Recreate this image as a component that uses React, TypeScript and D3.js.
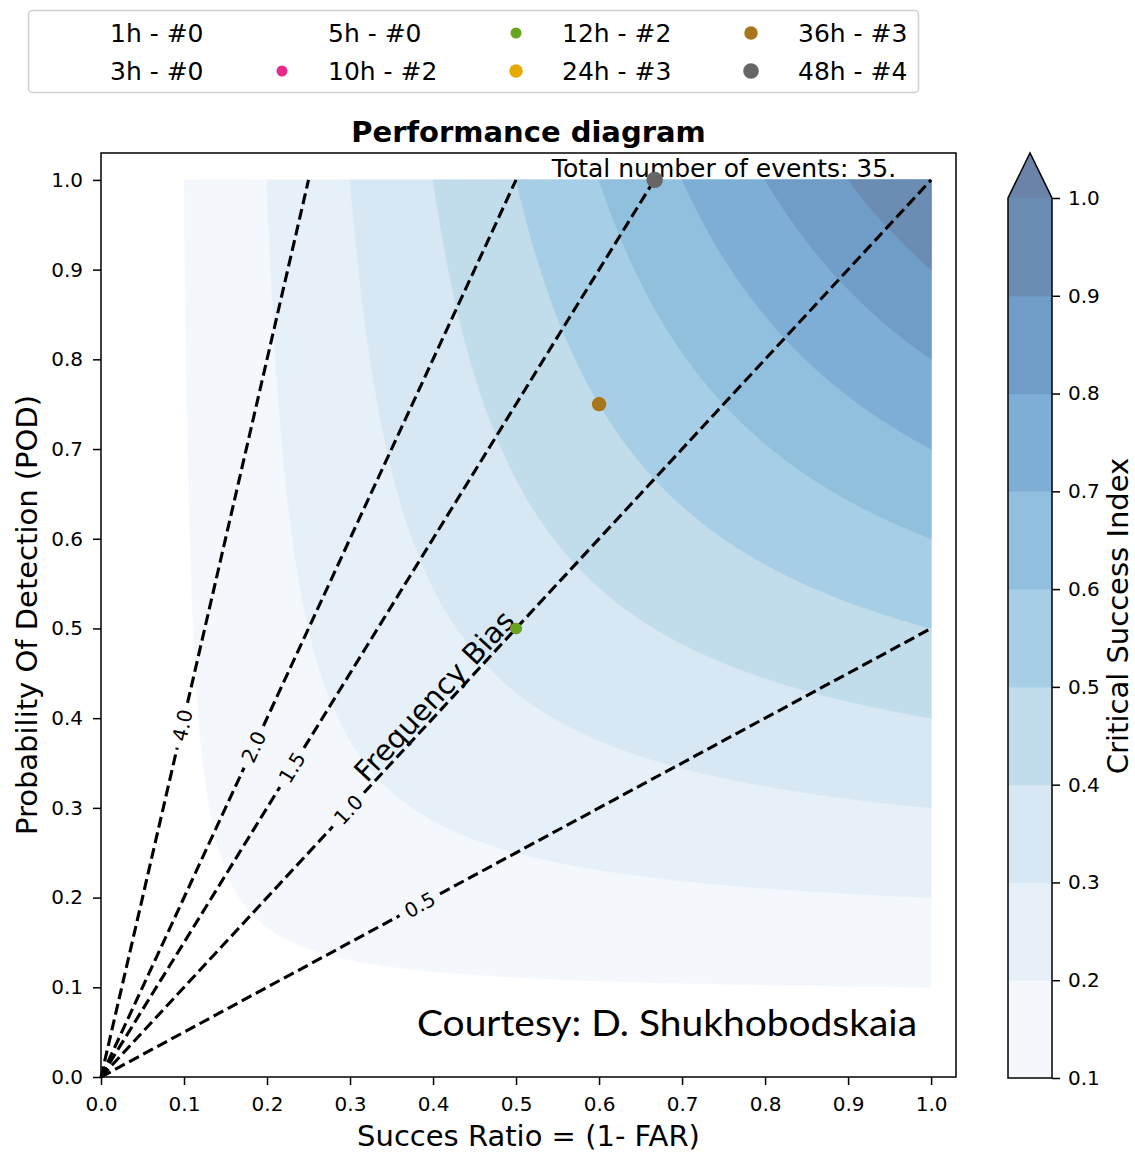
import React, { useEffect, useRef } from "react";
import * as d3 from "d3";

const W = 1135;
const H = 1152;

// CSI contour levels, also the colorbar ticks
const csiLevels = [0.1, 0.2, 0.3, 0.4, 0.5, 0.6, 0.7, 0.8, 0.9, 1.0];

// frequency bias lines + where the inline label sits (as success ratio)
const biasValues = [0.5, 1.0, 1.5, 2.0, 4.0];
const biasLabels = ["0.5", "1.0", "1.5", "2.0", "4.0"];
const biasLabelSR = [0.384, 0.298, 0.23, 0.184, 0.098];

// forecasts per lead time
const leadTimes = ["1h", "3h", "5h", "10h", "12h", "24h", "36h", "48h"];
const successRatio = [null, null, null, 0.5, 0.5, 0.6, 0.6, 0.667];
const podValues = [null, null, null, 0.5, 0.5, 0.75, 0.75, 1.0];
const nEvents = [0, 0, 0, 2, 2, 3, 3, 4];
const pointColors = ["#1b9e77", "#d95f02", "#7570b3", "#e7298a", "#66a61e", "#e6ab02", "#a6761d", "#666666"];

const axisTicks = [0, 0.1, 0.2, 0.3, 0.4, 0.5, 0.6, 0.7, 0.8, 0.9, 1.0];
const totalEvents = 35;

// grid the CSI field is evaluated on
const gridStart = 0.1;
const gridEnd = 1.0;
const gridN = 181;

// matplotlib "Blues" anchors
const bluesStops = ["#f7fbff", "#deebf7", "#c6dbef", "#9ecae1", "#6baed6", "#4292c6", "#2171b5", "#08519c", "#08306b"];

const FONT = "DejaVu Sans";

function csi(sr: number, pod: number) {
  return 1 / (1 / sr + 1 / pod - 1);
}

export default function App() {
  const ref = useRef<SVGSVGElement>(null);

  useEffect(() => {
    document.body.style.margin = "0";
    document.body.style.overflow = "hidden";

    const svg = d3.select(ref.current);
    svg.selectAll("*").remove();

    const x = d3.scaleLinear().domain([0, 1.03]).range([101, 956]);
    const y = d3.scaleLinear().domain([0, 1.03]).range([1077, 153]);

    const blues = d3
      .scaleLinear<string>()
      .domain(d3.range(bluesStops.length).map((i) => i / (bluesStops.length - 1)))
      .range(bluesStops)
      .interpolate(d3.interpolateRgb);
    // alpha 0.6 over white
    const withAlpha = (c: string) => d3.interpolateRgb("#ffffff", c)(0.6);
    const lo = csiLevels[0];
    const hi = csiLevels[csiLevels.length - 1];
    const bandColor = (k: number) => {
      if (k >= csiLevels.length - 1) return withAlpha(blues(1));
      const mid = (csiLevels[k] + csiLevels[k + 1]) / 2;
      return withAlpha(blues((mid - lo) / (hi - lo)));
    };

    // ---- contour field
    const n = gridN;
    const step = (gridEnd - gridStart) / (n - 1);
    const values: number[] = new Array(n * n);
    for (let j = 0; j < n; j++) {
      for (let i = 0; i < n; i++) {
        values[j * n + i] = csi(gridStart + i * step, gridStart + j * step);
      }
    }
    const contours = d3.contours().size([n, n]).thresholds(csiLevels)(values);
    const clampG = (c: number) => Math.max(0, Math.min(n - 1, c - 0.5));
    const toPx = (p: number[]) => [
      x(gridStart + clampG(p[0]) * step),
      y(gridStart + clampG(p[1]) * step),
    ];
    const pathOf = (mp: d3.ContourMultiPolygon) =>
      mp.coordinates
        .map((poly) =>
          poly
            .map((ring) => "M" + ring.map((p) => toPx(p).map((v) => v.toFixed(2)).join(",")).join("L") + "Z")
            .join("")
        )
        .join("");

    const plot = svg.append("g");
    plot
      .selectAll("path.band")
      .data(contours)
      .enter()
      .append("path")
      .attr("class", "band")
      .attr("d", (d) => pathOf(d))
      .attr("fill", (d, k) => bandColor(k))
      .attr("stroke", (d, k) => bandColor(k))
      .attr("stroke-width", 0.6);

    // ---- frequency bias lines with inline labels
    const lineG = plot.append("g");
    biasValues.forEach((b, k) => {
      const srEnd = Math.min(1, 1 / b);
      const p0 = [x(0), y(0)];
      const p1 = [x(srEnd), y(b * srEnd)];
      const c = [x(biasLabelSR[k]), y(b * biasLabelSR[k])];
      const len = Math.hypot(p1[0] - p0[0], p1[1] - p0[1]);
      const u = [(p1[0] - p0[0]) / len, (p1[1] - p0[1]) / len];
      const half = 23;
      const a = [c[0] - u[0] * half, c[1] - u[1] * half];
      const e = [c[0] + u[0] * half, c[1] + u[1] * half];
      [
        [p0, a],
        [e, p1],
      ].forEach((seg) => {
        lineG
          .append("path")
          .attr("d", d3.line()(seg as [number, number][]))
          .attr("fill", "none")
          .attr("stroke", "#000")
          .attr("stroke-width", 3.1)
          .attr("stroke-dasharray", "11,5");
      });
      const ang = (Math.atan2(p1[1] - p0[1], p1[0] - p0[0]) * 180) / Math.PI;
      lineG
        .append("text")
        .attr("transform", `translate(${c[0]},${c[1]}) rotate(${ang})`)
        .attr("text-anchor", "middle")
        .attr("dy", "0.36em")
        .attr("font-family", FONT)
        .attr("font-size", 20)
        .text(biasLabels[k]);
    });

    // "Frequency Bias" along the 1.0 line
    const ang1 = (Math.atan2(y(1) - y(0), x(1) - x(0)) * 180) / Math.PI;
    plot
      .append("text")
      .attr("transform", `translate(${x(0.401)},${y(0.425)}) rotate(${ang1})`)
      .attr("text-anchor", "middle")
      .attr("dy", "0.36em")
      .attr("font-family", FONT)
      .attr("font-size", 29)
      .text("Frequency Bias");

    plot
      .append("text")
      .attr("x", 724)
      .attr("y", 177)
      .attr("text-anchor", "middle")
      .attr("font-family", FONT)
      .attr("font-size", 25)
      .text(`Total number of events: ${totalEvents}.`);

    plot
      .append("text")
      .attr("x", 917)
      .attr("y", 1036)
      .attr("text-anchor", "end")
      .attr("font-family", "Lato")
      .attr("font-size", 37)
      .attr("textLength", 500)
      .attr("lengthAdjust", "spacingAndGlyphs")
      .text("Courtesy: D. Shukhobodskaia");

    // ---- forecast points (area ~ number of events)
    const pts = leadTimes
      .map((lt, k) => ({ k, sr: successRatio[k], pod: podValues[k], n: nEvents[k] }))
      .filter((d) => d.sr != null && d.n > 0);
    plot
      .selectAll("circle.pt")
      .data(pts)
      .enter()
      .append("circle")
      .attr("class", "pt")
      .attr("cx", (d) => x(d.sr as number))
      .attr("cy", (d) => y(d.pod as number))
      .attr("r", (d) => 4.1 * Math.sqrt(d.n))
      .attr("fill", (d) => pointColors[d.k]);

    // ---- frame + axes
    svg
      .append("rect")
      .attr("x", x(0))
      .attr("y", y(1.03))
      .attr("width", x(1.03) - x(0))
      .attr("height", y(0) - y(1.03))
      .attr("fill", "none")
      .attr("stroke", "#000")
      .attr("stroke-width", 1.5);

    const fmt = d3.format(".1f");
    const xAxis = svg
      .append("g")
      .attr("transform", `translate(0,${y(0)})`)
      .call(d3.axisBottom(x).tickValues(axisTicks).tickFormat((v) => fmt(v as number)).tickSize(8).tickPadding(12));
    const yAxis = svg
      .append("g")
      .attr("transform", `translate(${x(0)},0)`)
      .call(d3.axisLeft(y).tickValues(axisTicks).tickFormat((v) => fmt(v as number)).tickSize(8).tickPadding(10));
    [xAxis, yAxis].forEach((g) => {
      g.select(".domain").remove();
      g.selectAll("line").attr("stroke", "#000").attr("stroke-width", 1.5);
      g.selectAll("text").attr("font-family", FONT).attr("font-size", 20).attr("fill", "#000");
    });

    svg
      .append("text")
      .attr("x", (x(0) + x(1.03)) / 2)
      .attr("y", 1146)
      .attr("text-anchor", "middle")
      .attr("font-family", FONT)
      .attr("font-size", 29)
      .text("Succes Ratio = (1- FAR)");

    svg
      .append("text")
      .attr("transform", `translate(37,${(y(0) + y(1.03)) / 2}) rotate(-90)`)
      .attr("text-anchor", "middle")
      .attr("font-family", FONT)
      .attr("font-size", 29)
      .text("Probability Of Detection (POD)");

    svg
      .append("text")
      .attr("x", (x(0) + x(1.03)) / 2)
      .attr("y", 142)
      .attr("text-anchor", "middle")
      .attr("font-family", FONT)
      .attr("font-size", 29)
      .attr("font-weight", "bold")
      .text("Performance diagram");

    // ---- colorbar
    const cbX = 1008;
    const cbW = 44;
    const cb = d3.scaleLinear().domain([lo, hi]).range([1078, 198]);
    const cbG = svg.append("g");
    cbG
      .selectAll("rect")
      .data(d3.range(csiLevels.length - 1))
      .enter()
      .append("rect")
      .attr("x", cbX)
      .attr("y", (k) => cb(csiLevels[k + 1]))
      .attr("width", cbW)
      .attr("height", (k) => cb(csiLevels[k]) - cb(csiLevels[k + 1]) + 0.5)
      .attr("fill", (k) => bandColor(k));
    const tipH = 45;
    cbG
      .append("path")
      .attr("d", `M${cbX},${cb(hi)}L${cbX + cbW / 2},${cb(hi) - tipH}L${cbX + cbW},${cb(hi)}Z`)
      .attr("fill", bandColor(csiLevels.length - 1));
    cbG
      .append("path")
      .attr(
        "d",
        `M${cbX},${cb(lo)}L${cbX},${cb(hi)}L${cbX + cbW / 2},${cb(hi) - tipH}L${cbX + cbW},${cb(hi)}L${cbX + cbW},${cb(lo)}Z`
      )
      .attr("fill", "none")
      .attr("stroke", "#000")
      .attr("stroke-width", 1.5);
    const cbAxis = cbG
      .append("g")
      .attr("transform", `translate(${cbX + cbW},0)`)
      .call(d3.axisRight(cb).tickValues(csiLevels).tickFormat((v) => fmt(v as number)).tickSize(8).tickPadding(8));
    cbAxis.select(".domain").remove();
    cbAxis.selectAll("line").attr("stroke", "#000").attr("stroke-width", 1.5);
    cbAxis.selectAll("text").attr("font-family", FONT).attr("font-size", 20).attr("fill", "#000");

    svg
      .append("text")
      .attr("transform", `translate(1128,${(cb(lo) + cb(hi)) / 2 - 22}) rotate(-90)`)
      .attr("text-anchor", "middle")
      .attr("font-family", FONT)
      .attr("font-size", 29)
      .text("Critical Success Index");

    // ---- legend (filled column by column, 2 rows)
    const lg = svg.append("g");
    lg.append("rect")
      .attr("x", 28.5)
      .attr("y", 10.5)
      .attr("width", 890)
      .attr("height", 82)
      .attr("rx", 4)
      .attr("fill", "#fff")
      .attr("stroke", "#d0d0d0")
      .attr("stroke-width", 1.5);
    const colMarkerX = [64, 282, 516, 751];
    const colTextX = [110, 328, 562, 798];
    const rowY = [33, 71];
    leadTimes.forEach((lt, k) => {
      const col = Math.floor(k / 2);
      const row = k % 2;
      if (nEvents[k] > 0) {
        lg.append("circle")
          .attr("cx", colMarkerX[col])
          .attr("cy", rowY[row])
          .attr("r", 3.9 * Math.sqrt(nEvents[k]))
          .attr("fill", pointColors[k]);
      }
      lg.append("text")
        .attr("x", colTextX[col])
        .attr("y", rowY[row])
        .attr("dy", "0.36em")
        .attr("font-family", FONT)
        .attr("font-size", 25)
        .text(`${lt} - #${nEvents[k]}`);
    });
  }, []);

  return (
    <svg
      ref={ref}
      width={W}
      height={H}
      style={{ display: "block", position: "absolute", left: 0, top: 0 }}
    />
  );
}
